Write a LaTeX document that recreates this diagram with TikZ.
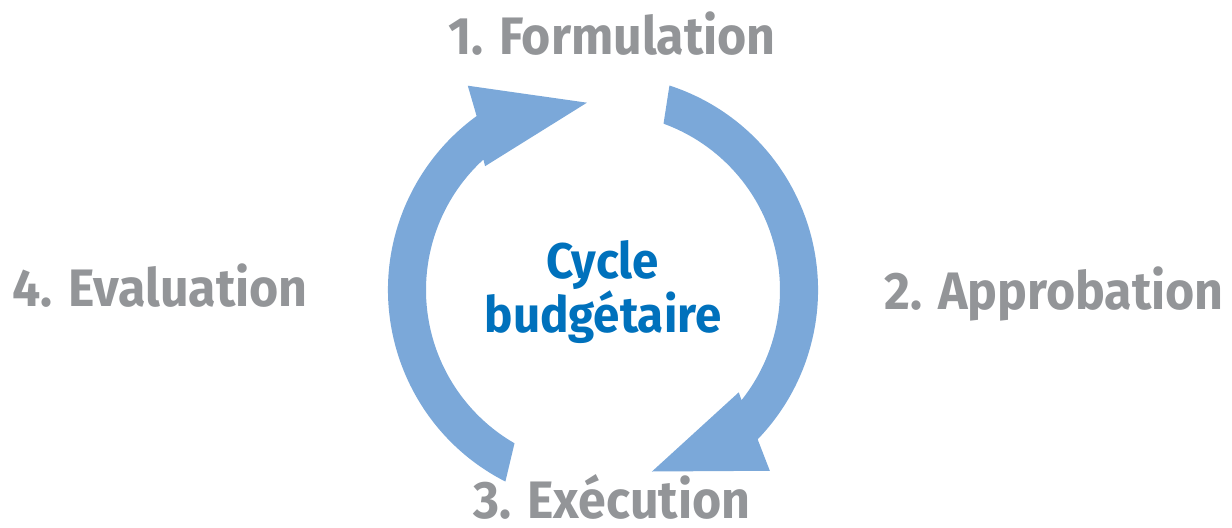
\documentclass[tikz,border=0pt]{standalone}
\usepackage{fontspec}
\setmainfont{Fira Sans}[FakeStretch=0.95]
\usetikzlibrary{calc}

\definecolor{ArrowBlue}{HTML}{7BA8D9}
\definecolor{StageGray}{HTML}{939598}
\definecolor{CycleBlue}{HTML}{0071BC}

\tikzset{
  stage/.style={font=\fontsize{30}{32}\selectfont\bfseries, text=StageGray, inner sep=0pt, text depth=0pt, anchor=base},
  cycletitle/.style={font=\fontsize{28.5}{31.2}\selectfont\bfseries, text=CycleBlue, inner sep=0pt, align=center},
  cyclearrow/.style={fill=ArrowBlue}
}

\begin{document}
\begin{tikzpicture}[x=0.02cm,y=0.02cm]
    \useasboundingbox (0,0) rectangle (1232,528);
    \coordinate (C) at (603,238);

    %Formulation -> Execution
    \fill[cyclearrow] ($(C)+(72:215)$) arc[start angle=72, end angle=-44, radius=215]
        -- ($(C)+(-47.3:246)$) -- ($(C)+(-74.9:188)$) -- ($(C)+(-37:170)$)
        -- ($(C)+(-38.5:177)$) arc[start angle=-38.5, end angle=70, radius=177] -- cycle;

    %Execution -> Formulation
    \fill[cyclearrow] ($(C)+(243:215)$) arc[start angle=243, end angle=126, radius=215]
        -- ($(C)+(123.5:245)$) -- ($(C)+(94.9:188)$) -- ($(C)+(133.6:171)$)
        -- ($(C)+(132.5:177)$) arc[start angle=132.5, end angle=240, radius=177] -- cycle;

    \node[cycletitle] (title) at (603,236) {Cycle\\budgétaire};

    \node[stage] (form) at (612,473) {1. Formulation};
    \node[stage] (appro) at (1054,218) {2. Approbation};
    \node[stage] (exec) at (612,10) {3. Exécution};
    \node[stage] (eval) at (160,221) {4. Evaluation};
\end{tikzpicture}
\end{document}
